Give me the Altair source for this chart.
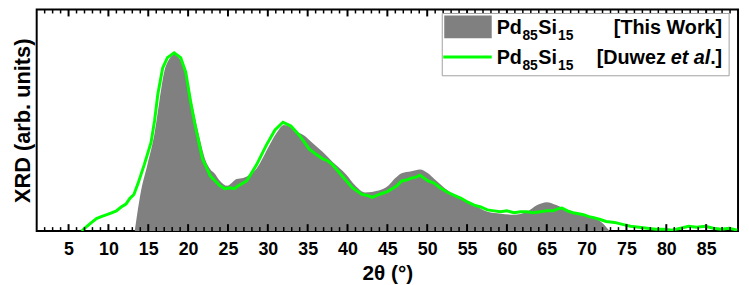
import altair as alt
import pandas as pd

# Duwez et al. (green line): 2theta (deg), intensity (arb.)
duwez_2theta = [6.65, 7.3, 7.9, 8.5, 9.1, 9.8, 10.4, 11.0, 11.6, 12.2, 12.7, 13.2,
                13.7, 14.5, 15.35, 15.8, 16.2, 16.8, 17.4, 18.25, 19.07, 19.7,
                20.3, 20.9, 21.8, 22.8, 24.0, 24.6, 25.3, 25.8, 26.3, 27.35, 28.6,
                29.8, 30.9, 31.9, 32.9, 34.0, 35.2, 36.0, 36.9, 37.5, 38.1, 39.35,
                40.6, 41.8, 42.5, 43.1, 43.7, 44.3, 45.0, 45.6, 46.2, 46.8, 47.4,
                48.0, 48.6, 49.1, 49.6, 50.1, 50.8, 51.6, 52.6, 53.4, 54.25, 55.1,
                55.9, 56.7, 57.55, 58.4, 59.2, 60.0, 60.9, 61.7, 62.5, 63.3, 64.2,
                65.0, 65.8, 66.4, 66.9, 67.6, 68.3, 69.0, 69.6, 70.3, 70.9, 71.7,
                72.45, 73.5, 74.5, 75.5, 76.6, 77.6, 78.7, 79.7, 80.7, 81.8, 82.8,
                83.8, 84.9, 85.9, 86.9, 87.9, 88.9]
duwez_int = [0, 5, 9, 13, 15, 17, 19, 21, 25, 28, 34, 38,
             49, 69, 92, 115, 142, 169, 180, 185, 180, 165,
             135, 109, 75, 57, 47, 44, 45, 44, 47, 52, 69,
             89, 105, 113, 109, 99, 85, 80, 75, 73, 69, 57,
             45, 38, 37, 35, 37, 39, 41, 44, 47, 52, 53,
             55, 56, 58, 55, 52, 50, 45, 40, 37, 34, 30,
             27, 25, 22, 21, 20, 21, 19, 20, 20, 19, 20,
             21, 21, 23, 24, 21, 19, 18, 17, 15, 14, 12,
             10, 9, 7, 5, 4, 3, 2, 2, 1, 3, 5,
             4, 5, 3, 2, 3, 1]

# This work (grey area)
this_2theta = [13.3, 14.1, 14.9, 15.8, 16.4, 17.0, 17.6, 18.25, 19.0, 19.8,
               20.6, 21.4, 22.2, 22.8, 23.3, 24.0, 24.9, 26.1, 26.9, 28.6,
               30.2, 31.2, 32.0, 32.8, 33.6, 34.6, 35.4, 36.9, 38.1, 39.8,
               41.0, 42.2, 43.9, 45.1, 46.0, 46.8, 48.0, 49.1, 50.1, 50.9,
               52.6, 54.25, 55.9, 57.55, 59.2, 60.9, 62.5, 63.8, 65.0, 66.2,
               67.5, 68.3, 69.6, 70.6, 71.9, 72.9]
this_int = [0, 42, 69, 102, 135, 165, 178, 183, 178, 162,
            128, 98, 73, 64, 60, 52, 47, 54, 55, 65,
            89, 103, 110, 108, 103, 99, 93, 82, 72, 59,
            47, 40, 42, 47, 55, 60, 62, 64, 60, 54,
            42, 34, 27, 20, 18, 17, 20, 27, 30, 27,
            22, 19, 17, 14, 9, 0]

major_ticks = list(range(5, 90, 5))
minor_ticks = [t for t in range(2, 89) if t % 5 != 0]

W, H = 709, 224
FONT = "Liberation Sans"
GREY = "#808080"
GREEN = "#00ff00"

df_this = pd.DataFrame({"t": this_2theta, "i": this_int})
df_duwez = pd.DataFrame({"t": duwez_2theta, "i": duwez_int})
df_major = pd.DataFrame({"t": major_ticks})
df_minor = pd.DataFrame({"t": minor_ticks})

xs = alt.Scale(domain=[1, 89], nice=False, zero=False)
ys = alt.Scale(domain=[0, 230], nice=False, zero=True)

area = alt.Chart(df_this).mark_area(color=GREY, clip=True, interpolate="monotone").encode(
    x=alt.X("t:Q", scale=xs,
            axis=alt.Axis(values=major_ticks, title="2θ (°)", ticks=False, tickSize=0,
                          domain=False, grid=False, labelPadding=10, titlePadding=4,
                          labelFlush=False)),
    y=alt.Y("i:Q", scale=ys,
            axis=alt.Axis(title="XRD (arb. units)", labels=False, ticks=False, tickSize=0,
                          domain=False, grid=False, titlePadding=2)),
)

line = alt.Chart(df_duwez).mark_line(color=GREEN, strokeWidth=3, clip=True).encode(
    x=alt.X("t:Q", scale=xs), y=alt.Y("i:Q", scale=ys)
)

def tick_layer(df, y0, y1, sw):
    return alt.Chart(df).mark_rule(color="black", strokeWidth=sw).encode(
        x=alt.X("t:Q", scale=xs), y=alt.value(y0), y2=alt.value(y1)
    )

ticks = [
    tick_layer(df_major, H, H - 7, 2),
    tick_layer(df_minor, H, H - 4, 1.5),
    tick_layer(df_major, 0, 7, 2),
    tick_layer(df_minor, 0, 4, 1.5),
]

one = pd.DataFrame({"a": [0]})

box = alt.Chart(one).mark_rect(fill="white", stroke="#a0a0a0", strokeWidth=1).encode(
    x=alt.value(410), x2=alt.value(700), y=alt.value(4), y2=alt.value(67))
swatch = alt.Chart(one).mark_rect(fill=GREY).encode(
    x=alt.value(412), x2=alt.value(460), y=alt.value(6), y2=alt.value(29))
leg_line = alt.Chart(one).mark_rule(color=GREEN, strokeWidth=3).encode(
    x=alt.value(411), x2=alt.value(460), y=alt.value(48))

def txt(s, x, y, size=20, align="left", style="normal"):
    return alt.Chart(one).mark_text(text=s, align=align, baseline="alphabetic",
                                    font=FONT, fontSize=size, fontWeight="bold",
                                    fontStyle=style, color="black").encode(
        x=alt.value(x), y=alt.value(y))

legend_texts = []
for base in (25, 55):
    legend_texts += [
        txt("Pd", 465, base),
        txt("85", 491, base + 6, size=14),
        txt("Si", 507, base),
        txt("15", 527, base + 6, size=14),
    ]
legend_texts += [
    txt("[This Work]", 693, 25, align="right"),
    txt(".]", 693, 55, align="right"),
    txt("et al", 681, 55, align="right", style="italic"),
    txt("[Duwez", 636, 55, align="right"),
]

chart = alt.layer(area, line, *ticks, box, swatch, leg_line, *legend_texts).properties(
    width=W, height=H,
    autosize=alt.AutoSizeParams(type="none"),
    padding={"left": 29, "top": 0, "right": 3, "bottom": 53},
).configure_view(stroke="black", strokeWidth=2).configure_axis(
    labelFont=FONT, labelFontSize=18, labelFontWeight="bold", labelColor="black",
    titleFont=FONT, titleFontWeight="bold", titleColor="black",
).configure_axisX(titleFontSize=21).configure_axisY(titleFontSize=22)

chart.save("out.html", embed_options={"renderer": "svg", "actions": False})
